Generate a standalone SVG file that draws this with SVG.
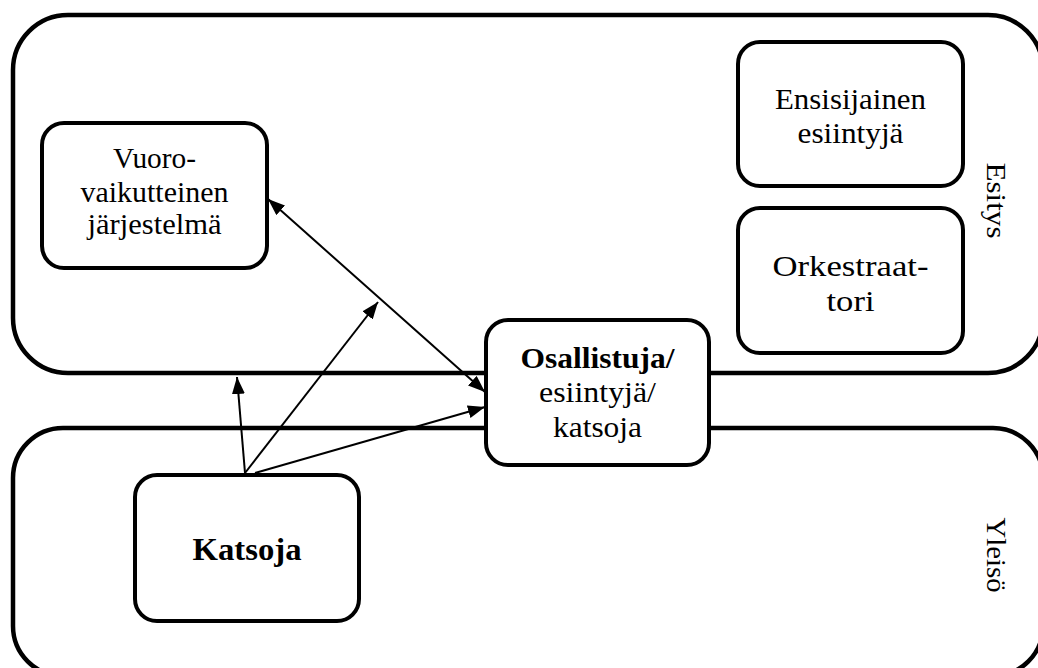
<svg xmlns="http://www.w3.org/2000/svg" width="1038" height="668" viewBox="0 0 1038 668">
  <style>
    .container { fill: none; stroke: #000; stroke-width: 4.5; }
    .box { fill: #fff; stroke: #000; stroke-width: 4; }
    .lbl { font-family: "Liberation Serif", "Times New Roman", serif; fill: #000; text-anchor: middle; }
    .b { font-weight: bold; }
    .conn { stroke: #000; stroke-width: 2; fill: none; }
  </style>
  <defs>
    <marker id="arrow" markerUnits="userSpaceOnUse" markerWidth="17" markerHeight="13" refX="17" refY="6.5" orient="auto-start-reverse">
      <path d="M0,0 L17,6.5 L0,13 z" fill="#000"/>
    </marker>
  </defs>
  <rect width="1038" height="668" fill="#fff"/>

  <g id="esitys">
    <rect class="container" x="13" y="15" width="1030" height="358" rx="55" ry="55"/>
    <text class="lbl" font-size="27" transform="translate(987,200.5) rotate(90)" textLength="76" lengthAdjust="spacingAndGlyphs">Esitys</text>
  </g>
  <g id="yleiso">
    <rect class="container" x="13" y="428" width="1030" height="248" rx="50" ry="50"/>
    <text class="lbl" font-size="27" transform="translate(987,555) rotate(90)" textLength="75" lengthAdjust="spacingAndGlyphs">Yleisö</text>
  </g>

  <g id="vuorovaikutteinen">
    <rect class="box" x="42" y="123" width="225" height="145" rx="22" ry="22"/>
    <text class="lbl" font-size="29" x="154.5" y="168" textLength="83" lengthAdjust="spacingAndGlyphs">Vuoro-</text>
    <text class="lbl" font-size="29" x="154.5" y="202" textLength="148" lengthAdjust="spacingAndGlyphs">vaikutteinen</text>
    <text class="lbl" font-size="29" x="154.5" y="234" textLength="134" lengthAdjust="spacingAndGlyphs">järjestelmä</text>
  </g>

  <g id="ensisijainen">
    <rect class="box" x="738" y="42" width="225" height="144" rx="22" ry="22"/>
    <text class="lbl" font-size="29" x="850.5" y="109" textLength="151" lengthAdjust="spacingAndGlyphs">Ensisijainen</text>
    <text class="lbl" font-size="29" x="850.5" y="143" textLength="106" lengthAdjust="spacingAndGlyphs">esiintyjä</text>
  </g>

  <g id="orkestraattori">
    <rect class="box" x="738" y="208" width="225" height="145" rx="22" ry="22"/>
    <text class="lbl" font-size="30" x="850.5" y="276" textLength="156" lengthAdjust="spacingAndGlyphs">Orkestraat-</text>
    <text class="lbl" font-size="30" x="850.5" y="311" textLength="48" lengthAdjust="spacingAndGlyphs">tori</text>
  </g>

  <g id="osallistuja">
    <rect class="box" x="486" y="320" width="223" height="145" rx="22" ry="22"/>
    <text class="lbl b" font-size="29" x="597.5" y="368" textLength="154" lengthAdjust="spacingAndGlyphs">Osallistuja/</text>
    <text class="lbl" font-size="29" x="597.5" y="402" textLength="117" lengthAdjust="spacingAndGlyphs">esiintyjä/</text>
    <text class="lbl" font-size="29" x="597.5" y="437" textLength="89" lengthAdjust="spacingAndGlyphs">katsoja</text>
  </g>

  <g id="katsoja">
    <rect class="box" x="135" y="475" width="224" height="146" rx="22" ry="22"/>
    <text class="lbl b" font-size="31" x="247" y="560" textLength="109" lengthAdjust="spacingAndGlyphs">Katsoja</text>
  </g>

  <g id="connectors">
    <line class="conn" x1="268" y1="199" x2="485" y2="392" marker-start="url(#arrow)" marker-end="url(#arrow)"/>
    <line class="conn" x1="245" y1="473" x2="378" y2="302" marker-end="url(#arrow)"/>
    <line class="conn" x1="245" y1="473" x2="237" y2="377" marker-end="url(#arrow)"/>
    <line class="conn" x1="255" y1="473" x2="485" y2="407" marker-end="url(#arrow)"/>
  </g>
</svg>
